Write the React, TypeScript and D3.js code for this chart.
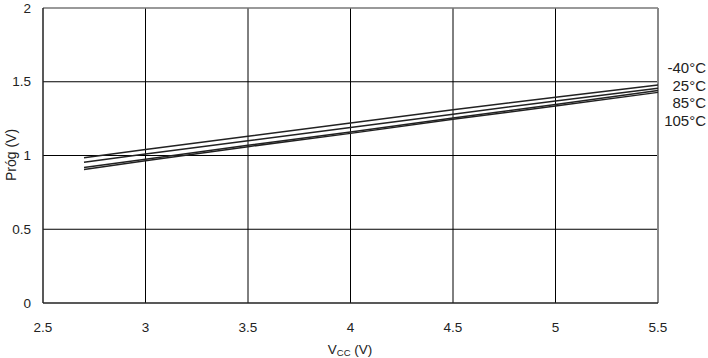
import React from "react";
import * as d3 from "d3";

const vcc = [2.7, 3, 3.5, 4, 4.5, 5, 5.5];
const seriesNames = ["-40°C", "25°C", "85°C", "105°C"];
const tM40 = [0.985, 1.04, 1.13, 1.22, 1.31, 1.395, 1.478];
const t25 = [0.955, 1.01, 1.1, 1.19, 1.28, 1.37, 1.456];
const t85 = [0.918, 0.975, 1.07, 1.16, 1.255, 1.345, 1.44];
const t105 = [0.905, 0.965, 1.06, 1.15, 1.245, 1.335, 1.428];
const xTicks = [2.5, 3, 3.5, 4, 4.5, 5, 5.5];
const yTicks = [0, 0.5, 1, 1.5, 2];

export default function App() {
  const W = 708, H = 358;
  const x = d3.scaleLinear().domain([2.5, 5.5]).range([43, 658]);
  const y = d3.scaleLinear().domain([0, 2]).range([303, 8]);
  const all = [tM40, t25, t85, t105];
  const line = d3.line<number>().x((_, i) => x(vcc[i])).y((d) => y(d));
  const font = "Liberation Sans, Arial, sans-serif";
  return (
    <svg width={W} height={H} style={{ position: "absolute", left: 0, top: 0 }} fontFamily={font}>
      <rect width={W} height={H} fill="#fff" />
      {xTicks.slice(1, -1).map((t) => (
        <line key={"gx" + t} x1={x(t)} x2={x(t)} y1={y(2)} y2={y(0)} stroke="#000" strokeWidth={1} />
      ))}
      {yTicks.slice(1, -1).map((t) => (
        <line key={"gy" + t} x1={x(2.5)} x2={x(5.5)} y1={y(t)} y2={y(t)} stroke="#000" strokeWidth={1} />
      ))}
      <line x1={x(2.5)} x2={x(5.5)} y1={y(2)} y2={y(2)} stroke="#777" strokeWidth={1.5} />
      <line x1={x(5.5)} x2={x(5.5)} y1={y(2)} y2={y(0)} stroke="#888" strokeWidth={2} />
      <line x1={x(2.5)} x2={x(2.5)} y1={y(2)} y2={y(0)} stroke="#222" strokeWidth={1.5} />
      <line x1={x(2.5)} x2={x(5.5)} y1={y(0)} y2={y(0)} stroke="#222" strokeWidth={1.5} />
      {all.map((s, i) => (
        <path key={i} d={line(s) || ""} fill="none" stroke="#222" strokeWidth={1.5} />
      ))}
      {xTicks.map((t) => (
        <text key={"tx" + t} x={x(t)} y={332} fontSize={13.5} textAnchor="middle" fill="#222">
          {String(t)}
        </text>
      ))}
      {yTicks.map((t) => (
        <text key={"ty" + t} x={31} y={y(t) + 4.5} fontSize={13.5} textAnchor="end" fill="#222">
          {String(t)}
        </text>
      ))}
      {seriesNames.map((n, i) => (
        <text key={n} x={706} y={73 + i * 17.5} fontSize={15} textAnchor="end" fill="#222">
          {n}
        </text>
      ))}
      <text x={350} y={354} fontSize={13.5} textAnchor="middle" fill="#222">
        V<tspan fontSize={9.5} dy={2}>CC</tspan>
        <tspan dy={-2}> (V)</tspan>
      </text>
      <text transform={`translate(16,${155}) rotate(-90)`} fontSize={14} textAnchor="middle" fill="#222">
        Próg (V)
      </text>
    </svg>
  );
}
